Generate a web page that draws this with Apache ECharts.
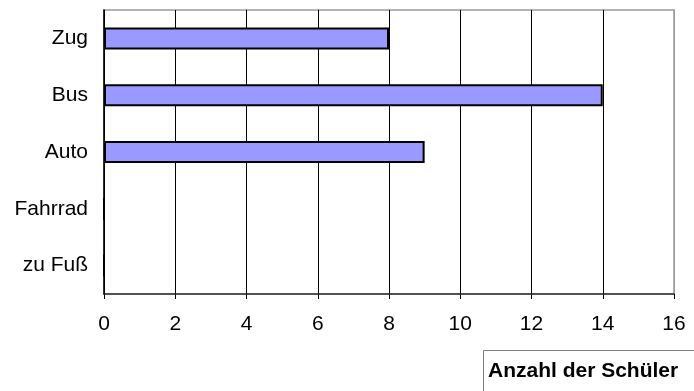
<!DOCTYPE html>
<html>
<head>
<meta charset="utf-8">
<script src="https://cdn.jsdelivr.net/npm/echarts@6/dist/echarts.min.js"></script>
<style>html,body{margin:0;padding:0;background:#fff}#c{width:694px;height:391px}</style>
</head>
<body>
<div id="c"></div>
<script>
const categories = ['zu Fuß', 'Fahrrad', 'Auto', 'Bus', 'Zug'];
const values = [0, 0, 9, 14, 8];
const xTicks = [0, 2, 4, 6, 8, 10, 12, 14, 16];
const axisTitle = 'Anzahl der Schüler';

const chart = echarts.init(document.getElementById('c'));
const font = 'Liberation Sans, Arial, sans-serif';
chart.setOption({
  animation: false,
  backgroundColor: '#fff',
  title: {
    text: axisTitle,
    left: 483, top: 350,
    padding: [11, 30, 30, 5],
    borderColor: '#808080', borderWidth: 1,
    textStyle: { fontFamily: font, fontSize: 21, fontWeight: 'bold', color: '#000' }
  },
  grid: {
    left: 104, right: 20, top: 10, bottom: 97,
    show: true, borderColor: '#999', borderWidth: 1.5, backgroundColor: 'transparent'
  },
  xAxis: {
    type: 'value', min: xTicks[0], max: xTicks[xTicks.length - 1], interval: 2,
    axisLine: { show: true, lineStyle: { color: '#333', width: 1.5 } },
    axisTick: { show: true, length: 5, lineStyle: { color: '#000', width: 1 } },
    axisLabel: { color: '#000', fontFamily: font, fontSize: 21, margin: 20 },
    splitLine: { show: true, lineStyle: { color: ['#000','#000','#000','#000','#000','#000','#000','#000','#999'], width: 1 } }
  },
  yAxis: {
    type: 'category', data: categories,
    axisLine: { show: true, lineStyle: { color: '#000', width: 1.5 } },
    axisTick: { show: false },
    axisLabel: { color: '#000', fontFamily: font, fontSize: 21, margin: 16 },
    splitLine: { show: false }
  },
  series: [{
    type: 'bar', data: values, barWidth: 22,
    itemStyle: { color: '#9999ff', borderColor: '#000', borderWidth: 2 }
  }]
});
</script>
</body>
</html>
